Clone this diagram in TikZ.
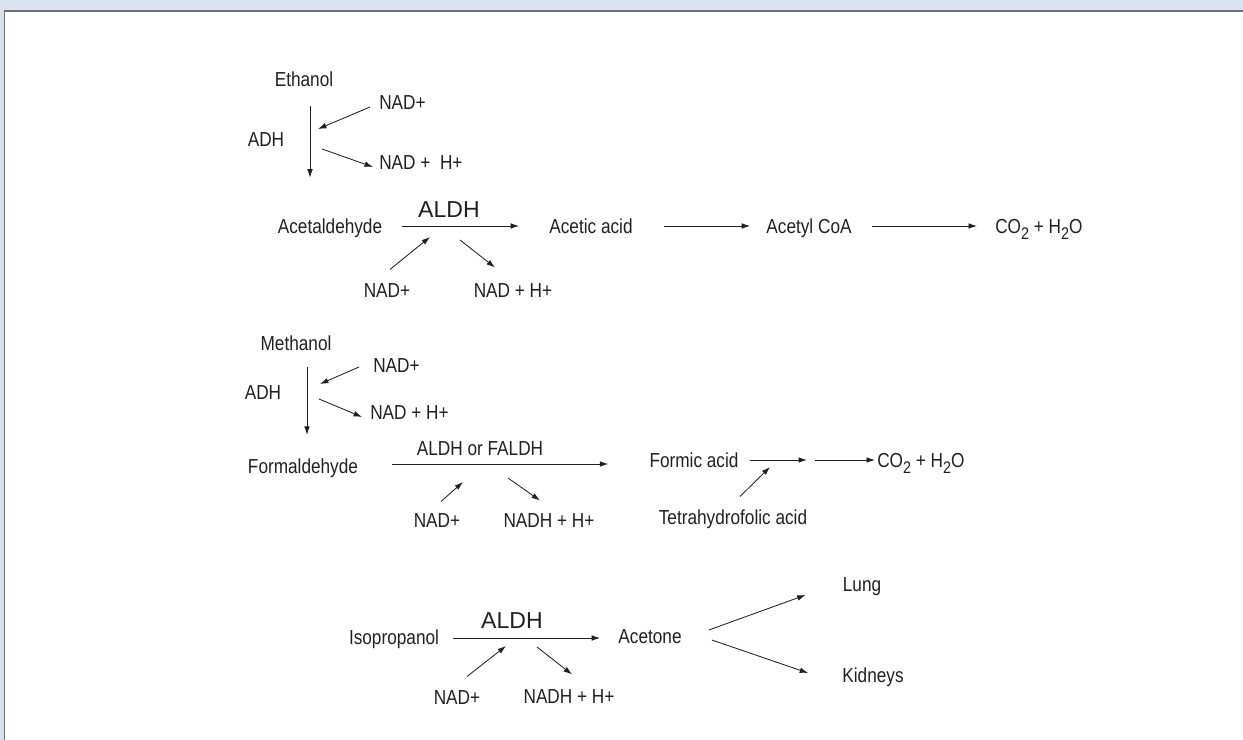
\documentclass[tikz,border=0pt]{standalone}
\usepackage{fontspec}
\setmainfont{Liberation Sans}[FakeStretch=0.85]
\newfontfamily\widefont{Liberation Sans}
\usepackage{tikz}
\usetikzlibrary{arrows.meta, calc, positioning}
\definecolor{ink}{HTML}{231F20}
\definecolor{band}{HTML}{DCE1EF}
\definecolor{rule}{HTML}{6E6E7A}
\newcommand{\lowsub}[1]{\raisebox{-0.55ex}{\fontsize{12pt}{12pt}\selectfont #1}}
\tikzstyle{txt} = [inner sep=0pt, text height=10.3pt, text depth=0pt, text=ink, font=\fontsize{14.4pt}{16pt}\selectfont]
\tikzstyle{enzyme} = [inner sep=0pt, text height=11.7pt, text depth=0pt, text=ink, font=\widefont\fontsize{16.4pt}{18pt}\selectfont]
\tikzstyle{arrow} = [line width=0.6pt, draw=ink, -{Latex[length=6pt,width=4pt]}]

\begin{document}
\begin{tikzpicture}[x=0.025cm, y=-0.025cm]
	\useasboundingbox (0,0) rectangle (1243,740);
	\fill [band] (0,0) rectangle (1243,10);
	\fill [band] (0,0) rectangle (3.5,740);
	\draw [rule, line width=1.1pt] (4.4,740) -- (4.4,10.8) -- (1243,10.8);
	% ethanol
	\node (Ethanol) [txt] at (304,79) {Ethanol};
	\node (ADHe) [txt] at (266,139) {ADH};
	\node (NADa) [txt, anchor=west] at (379,102) {NAD+};
	\node (NADHa) [txt, anchor=west] at (379,162) {NAD + \ H+};
	\node (Acetaldehyde) [txt] at (330,226) {Acetaldehyde};
	\node (ALDHa) [enzyme] at (449,209) {ALDH};
	\node (NADb) [txt] at (387,290) {NAD+};
	\node (NADHb) [txt] at (513,290) {NAD + H+};
	\node (AceticAcid) [txt] at (591,226) {Acetic acid};
	\node (AcetylCoA) [txt] at (809,226) {Acetyl CoA};
	\node (EndA) [txt, anchor=west] at (995,226) {CO\lowsub{2} + H\lowsub{2}O};
	\coordinate (AxisE) at (310,0);
	\coordinate (InE) at (318,129);
	\coordinate (OutE) at (322,149);
	\coordinate (InA) at (430,237);
	\coordinate (OutA) at (460,240);
	\draw [arrow, shorten <=0.49cm, shorten >=1.02cm] (Ethanol.south -| AxisE) -- (Acetaldehyde.north -| AxisE);
	\draw [arrow] ($(NADa.west)+(-9,5)$) -- (InE);
	\draw [arrow] (OutE) -- ($(NADHa.west)+(-6,5)$);
	\draw [arrow] ($(Acetaldehyde.east)+(20,0)$) -- ($(AceticAcid.west)+(-30,0)$);
	\draw [arrow] ($(NADb.north)+(3,-13)$) -- (InA);
	\draw [arrow] (OutA) -- ($(NADHb.north)+(-18,-15)$);
	\draw [arrow] ($(AceticAcid.east)+(31,0)$) -- ($(AcetylCoA.west)+(-16,0)$);
	\draw [arrow] ($(AcetylCoA.east)+(20,0)$) -- ($(EndA.west)+(-18,0)$);
	% methanol
	\node (Methanol) [txt] at (296,343) {Methanol};
	\node (ADHm) [txt] at (263,392) {ADH};
	\node (NADc) [txt, anchor=west] at (373,365) {NAD+};
	\node (NADHc) [txt, anchor=west] at (370,412) {NAD + H+};
	\node (Formaldehyde) [txt] at (303,466) {Formaldehyde};
	\node (FALDH) [txt] at (480,448) {ALDH or FALDH};
	\node (NADd) [txt] at (437,520) {NAD+};
	\node (NADHd) [txt] at (549,520) {NADH + H+};
	\node (FormicAcid) [txt] at (694,460) {Formic acid};
	\node (THF) [txt] at (733,517) {Tetrahydrofolic acid};
	\node (EndM) [txt, anchor=west] at (877,460) {CO\lowsub{2} + H\lowsub{2}O};
	\coordinate (AxisM) at (307,0);
	\coordinate (InM) at (320,384);
	\coordinate (OutM) at (319,399);
	\coordinate (InF) at (463,482);
	\coordinate (OutF) at (508,478);
	\coordinate (StepF) at (807,460);
	\coordinate (NextF) at (815,460);
	\coordinate (InT) at (770,467);
	\draw [arrow, shorten <=0.42cm, shorten >=0.59cm] (Methanol.south -| AxisM) -- (Formaldehyde.north -| AxisM);
	\draw [arrow] ($(NADc.west)+(-14,2)$) -- (InM);
	\draw [arrow] (OutM) -- ($(NADHc.west)+(-8,5)$);
	\draw [arrow] ($(Formaldehyde.east)+(34,-2)$) -- ($(FormicAcid.west)+(-41,4)$);
	\draw [arrow] ($(NADd.north)+(4,-11)$) -- (InF);
	\draw [arrow] (OutF) -- ($(NADHd.north)+(-9,-12)$);
	\draw [arrow] ($(FormicAcid.east)+(11,0)$) -- (StepF);
	\draw [arrow] (NextF) -- ($(EndM.west)+(-2,0)$);
	\draw [arrow] ($(THF.north)+(7,-13)$) -- (InT);
	% isopropanol
	\node (Isopropanol) [txt] at (394,637) {Isopropanol};
	\node (ALDHi) [enzyme] at (512,620) {ALDH};
	\node (NADe) [txt] at (457,697) {NAD+};
	\node (NADHe) [txt] at (569,696) {NADH + H+};
	\node (Acetone) [txt] at (650,636) {Acetone};
	\node (Lung) [txt] at (862,584) {Lung};
	\node (Kidneys) [txt] at (873,675) {Kidneys};
	\coordinate (InI) at (506,646);
	\coordinate (OutI) at (537,647);
	\draw [arrow] ($(Isopropanol.east)+(14,1)$) -- ($(Acetone.west)+(-18,2)$);
	\draw [arrow] ($(NADe.north)+(10,-13)$) -- (InI);
	\draw [arrow] (OutI) -- ($(NADHe.north)+(3,-14)$);
	\draw [arrow] ($(Acetone.east)+(27,-6)$) -- ($(Lung.west)+(-37,11)$);
	\draw [arrow] ($(Acetone.east)+(30,4)$) -- ($(Kidneys.west)+(-34,-2)$);
\end{tikzpicture}
\end{document}
